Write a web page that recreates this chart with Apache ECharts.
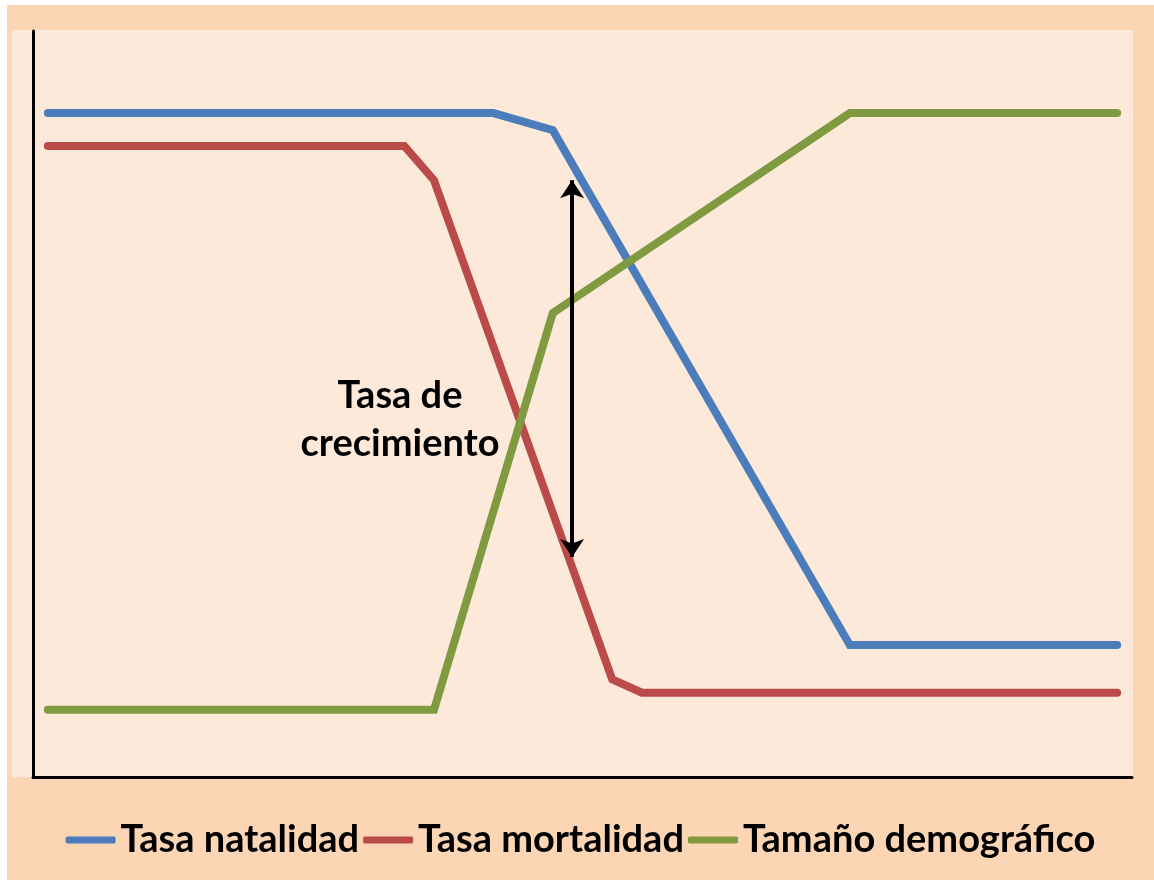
<!DOCTYPE html>
<html>
<head>
<meta charset="utf-8">
<script src="https://cdn.jsdelivr.net/npm/echarts@6/dist/echarts.min.js"></script>
<style>
  html, body { margin: 0; padding: 0; background: #ffffff; }
  #chart { position: absolute; left: 7px; top: 5px; width: 1147px; height: 875px; background: #FCD5B5; }
</style>
</head>
<body>
<div id="chart"></div>
<script>
// x = period index (0..36), y = relative level (0..100)
const natalidadX = [0, 15, 17, 27, 36]
const natalidadY = [89, 89, 86.7, 17.7, 17.7]

const mortalidadX = [0, 12, 13, 19, 20, 36]
const mortalidadY = [84.6, 84.6, 80, 13.1, 11.3, 11.3]

const tamanoX = [0, 13, 17, 27, 36]
const tamanoY = [9, 9, 62.2, 89, 89]

const seriesNames = ['Tasa natalidad', 'Tasa mortalidad', 'Tamaño demográfico']
const colors = ['#4A7DBA', '#BA4B48', '#7F9A40']

// arrow between the two rates
const arrowX = 17.65
const arrowTop = 80
const arrowBottom = 29.5

const pairs = (xs, ys) => xs.map((x, i) => [x, ys[i]])

const chart = echarts.init(document.getElementById('chart'))

const lineSeries = (name, data, color) => ({
  name,
  type: 'line',
  data,
  symbol: 'none',
  color,
  lineStyle: { width: 8, color, cap: 'round', join: 'miter' },
  animation: false,
  z: 3
})

const natalidad = lineSeries(seriesNames[0], pairs(natalidadX, natalidadY), colors[0])
natalidad.markLine = {
  silent: true,
  animation: false,
  symbol: ['arrow', 'arrow'],
  symbolSize: [18, 18],
  label: { show: false },
  lineStyle: { color: '#000', width: 4, type: 'solid' },
  data: [[{ coord: [arrowX, arrowTop] }, { coord: [arrowX, arrowBottom] }]]
}

chart.setOption({
  animation: false,
  grid: { left: 26, right: 22, top: 26, bottom: 103 },
  graphic: [
    { type: 'rect', z: -10, shape: { x: 5, y: 25, width: 1121, height: 747 }, style: { fill: '#FCE9DA' } },
    {
      type: 'text', z: 10, x: 393, y: 367,
      style: {
        text: 'Tasa de\ncrecimiento',
        font: 'bold 38px Lato',
        fill: '#000',
        align: 'center',
        verticalAlign: 'top',
        lineHeight: 48
      }
    }
  ],
  legend: {
    top: 810,
    left: 'center',
    icon: 'roundRect',
    itemWidth: 50,
    itemHeight: 7,
    itemGap: 4,
    textStyle: { fontFamily: 'Lato', fontWeight: 'bold', fontSize: 38, lineHeight: 40, color: '#000' },
    data: seriesNames
  },
  xAxis: {
    type: 'value',
    min: -0.5,
    max: 36.5,
    axisLine: { show: true, onZero: false, lineStyle: { color: '#000', width: 3 } },
    axisTick: { show: false },
    axisLabel: { show: false },
    splitLine: { show: false }
  },
  yAxis: {
    type: 'value',
    min: 0,
    max: 100,
    axisLine: { show: true, onZero: false, lineStyle: { color: '#000', width: 3 } },
    axisTick: { show: false },
    axisLabel: { show: false },
    splitLine: { show: false }
  },
  series: [
    natalidad,
    lineSeries(seriesNames[1], pairs(mortalidadX, mortalidadY), colors[1]),
    lineSeries(seriesNames[2], pairs(tamanoX, tamanoY), colors[2])
  ]
})
</script>
</body>
</html>
